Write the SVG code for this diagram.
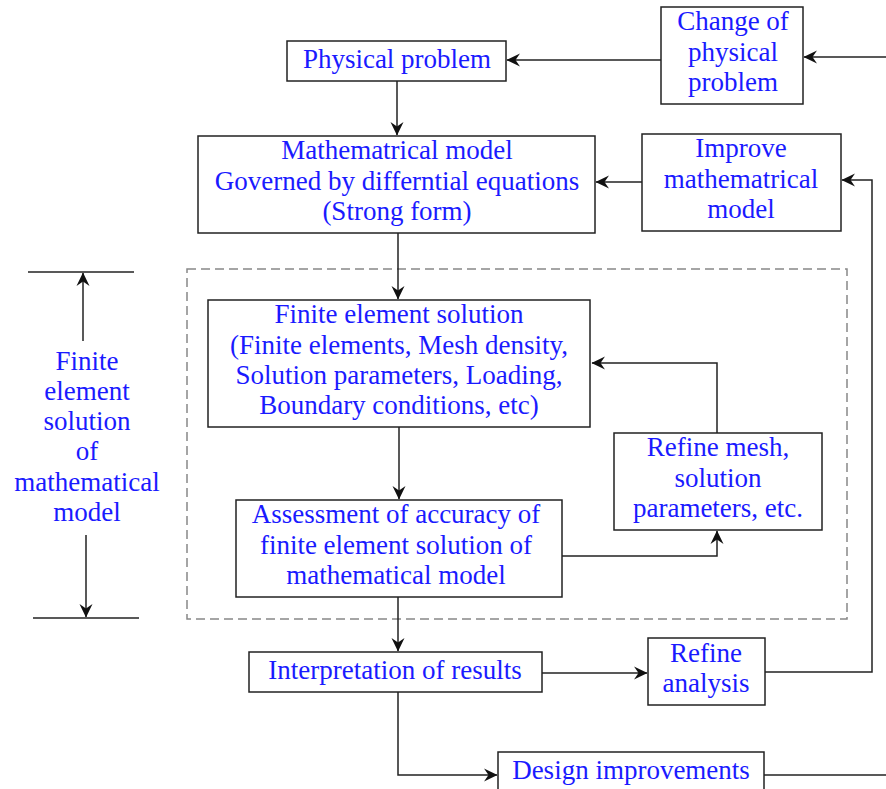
<svg xmlns="http://www.w3.org/2000/svg" width="886" height="789" viewBox="0 0 886 789">
<style>
  .box { fill: #fff; stroke: #222; stroke-width: 1.5; }
  .t { font-family: "Liberation Serif", "Times New Roman", serif; font-size: 27px; fill: #1a1aff; text-anchor: middle; }
  .c { fill: none; stroke: #222; stroke-width: 1.5; }
  .ca { fill: none; stroke: #222; stroke-width: 1.5; marker-end: url(#ah); }
  .dash { fill: none; stroke: #888; stroke-width: 1.5; stroke-dasharray: 9 5; }
</style>
<defs>
  <marker id="ah" markerWidth="18" markerHeight="16" viewBox="-16 -8 18 16" refX="0" refY="0" orient="auto" markerUnits="userSpaceOnUse">
    <path d="M0.5,0 L-13,-6.5 L-8.5,0 L-13,6.5 Z" fill="#111"/>
  </marker>
</defs>
<rect width="886" height="789" fill="#fff"/>

<rect id="fe-region" class="dash" x="187" y="269" width="660" height="350"/>

<g id="connectors">
  <line class="ca" x1="886" y1="57" x2="804" y2="57"/>
  <line class="ca" x1="661" y1="60" x2="507" y2="60"/>
  <line class="ca" x1="397" y1="81" x2="397" y2="135"/>
  <line class="ca" x1="642" y1="182" x2="596" y2="182"/>
  <polyline class="ca" points="765,672 872,672 872,180 842,180"/>
  <line class="ca" x1="398" y1="233" x2="398" y2="299"/>
  <line class="ca" x1="399" y1="427" x2="399" y2="499"/>
  <polyline class="ca" points="717,433 717,363 592,363"/>
  <polyline class="ca" points="562,556 717,556 717,531"/>
  <line class="ca" x1="398" y1="597" x2="398" y2="651"/>
  <line class="ca" x1="542" y1="673" x2="647" y2="673"/>
  <polyline class="ca" points="398,692 398,775 497,775"/>
  <line class="c" x1="764" y1="775" x2="886" y2="775"/>
  <line class="c" x1="28" y1="272" x2="134" y2="272"/>
  <line class="ca" x1="83" y1="341" x2="83" y2="273"/>
  <line class="ca" x1="86" y1="535" x2="86" y2="617"/>
  <line class="c" x1="33" y1="618" x2="139" y2="618"/>
</g>

<g id="physical-problem">
  <rect class="box" x="287" y="41" width="219" height="40"/>
  <text class="t" x="397" y="68">Physical problem</text>
</g>

<g id="change-physical">
  <rect class="box" x="661" y="7" width="142" height="97"/>
  <text class="t" x="733" y="30">Change of</text>
  <text class="t" x="733" y="61">physical</text>
  <text class="t" x="733" y="91">problem</text>
</g>

<g id="math-model">
  <rect class="box" x="198" y="136" width="397" height="97"/>
  <text class="t" x="397" y="159">Mathematrical model</text>
  <text class="t" x="397" y="190">Governed by differntial equations</text>
  <text class="t" x="397" y="220">(Strong form)</text>
</g>

<g id="improve-model">
  <rect class="box" x="642" y="134" width="199" height="97"/>
  <text class="t" x="741" y="157">Improve</text>
  <text class="t" x="741" y="188">mathematrical</text>
  <text class="t" x="741" y="218">model</text>
</g>

<g id="fe-solution">
  <rect class="box" x="208" y="300" width="382" height="127"/>
  <text class="t" x="399" y="323">Finite element solution</text>
  <text class="t" x="399" y="354">(Finite elements, Mesh density,</text>
  <text class="t" x="399" y="384">Solution parameters, Loading,</text>
  <text class="t" x="399" y="414">Boundary conditions, etc)</text>
</g>

<g id="refine-mesh">
  <rect class="box" x="614" y="433" width="208" height="97"/>
  <text class="t" x="718" y="456">Refine mesh,</text>
  <text class="t" x="718" y="487">solution</text>
  <text class="t" x="718" y="517">parameters, etc.</text>
</g>

<g id="assessment">
  <rect class="box" x="236" y="500" width="326" height="97"/>
  <text class="t" x="396" y="523">Assessment of accuracy of</text>
  <text class="t" x="396" y="554">finite element solution of</text>
  <text class="t" x="396" y="584">mathematical model</text>
</g>

<g id="interpretation">
  <rect class="box" x="249" y="652" width="293" height="40"/>
  <text class="t" x="395" y="679">Interpretation of results</text>
</g>

<g id="refine-analysis">
  <rect class="box" x="648" y="638" width="117" height="67"/>
  <text class="t" x="706" y="662">Refine</text>
  <text class="t" x="706" y="692">analysis</text>
</g>

<g id="design-improvements">
  <rect class="box" x="498" y="752" width="266" height="45"/>
  <text class="t" x="631" y="779">Design improvements</text>
</g>

<g id="fe-label">
  <text class="t" x="87" y="370">Finite</text>
  <text class="t" x="87" y="400">element</text>
  <text class="t" x="87" y="430">solution</text>
  <text class="t" x="87" y="460">of</text>
  <text class="t" x="87" y="491">mathematical</text>
  <text class="t" x="87" y="521">model</text>
</g>
</svg>
